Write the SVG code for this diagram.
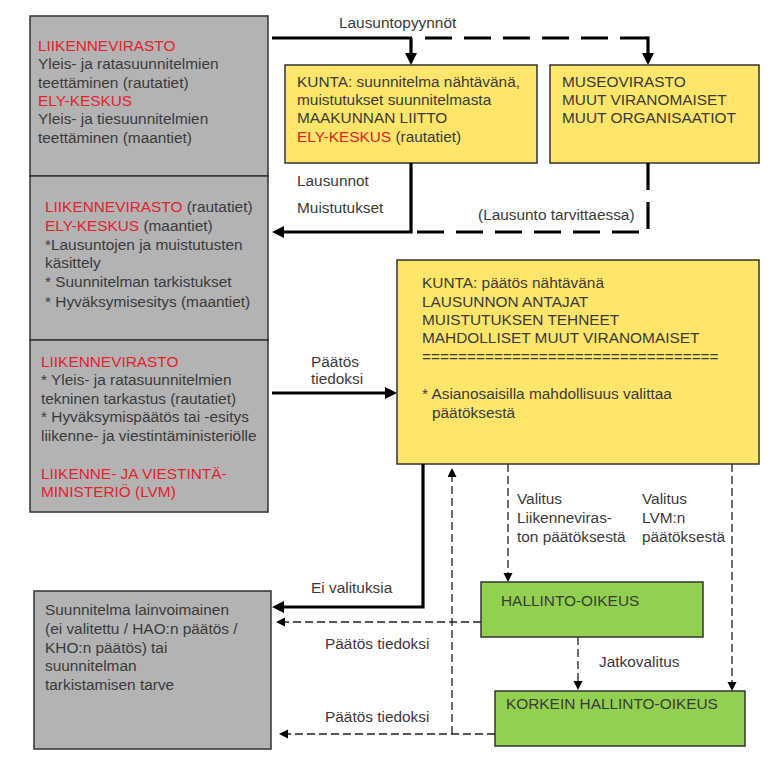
<svg xmlns="http://www.w3.org/2000/svg" width="780" height="770" viewBox="0 0 780 770">
<style>
text{font-family:"Liberation Sans",Arial,sans-serif;font-size:15.4px;fill:#3a3a3a}
.r{fill:#e3222b}
.gray{fill:#b3b3b3;stroke:#333;stroke-width:1.5}
.yel{fill:#ffe66b;stroke:#333;stroke-width:1.5}
.grn{fill:#92d050;stroke:#333;stroke-width:1.5}
.thick{fill:none;stroke:#000;stroke-width:3.2}
.tdash{fill:none;stroke:#000;stroke-width:3.2;stroke-dasharray:27 12}
.thin{fill:none;stroke:#222;stroke-width:1.3;stroke-dasharray:8 4}
</style>
<defs>
<marker id="ah" markerUnits="userSpaceOnUse" markerWidth="13" markerHeight="13" refX="6" refY="6" orient="auto"><path d="M0,0 L12,6 L0,12 z" fill="#000"/></marker>
<marker id="as" markerUnits="userSpaceOnUse" markerWidth="10" markerHeight="10" refX="5" refY="4.5" orient="auto"><path d="M0,0 L9,4.5 L0,9 z" fill="#000"/></marker>
</defs>
<rect width="780" height="770" fill="#fff"/>

<g id="n1">
<rect class="gray" x="30" y="16" width="238" height="160"/>
<text x="38" y="51" class="r">LIIKENNEVIRASTO</text>
<text x="38" y="69">Yleis- ja ratasuunnitelmien</text>
<text x="38" y="88">teettäminen (rautatiet)</text>
<text x="38" y="106" class="r">ELY-KESKUS</text>
<text x="38" y="124">Yleis- ja tiesuunnitelmien</text>
<text x="38" y="143">teettäminen (maantiet)</text>
</g>
<g id="n2">
<rect class="gray" x="30" y="176" width="238" height="164"/>
<text x="45" y="212"><tspan class="r">LIIKENNEVIRASTO</tspan> (rautatiet)</text>
<text x="45" y="231"><tspan class="r">ELY-KESKUS</tspan> (maantiet)</text>
<text x="45" y="250">*Lausuntojen ja muistutusten</text>
<text x="45" y="268">käsittely</text>
<text x="45" y="287">* Suunnitelman tarkistukset</text>
<text x="45" y="307">* Hyväksymisesitys (maantiet)</text>
</g>
<g id="n3">
<rect class="gray" x="30" y="340" width="238" height="172"/>
<text x="41" y="367" class="r">LIIKENNEVIRASTO</text>
<text x="41" y="385">* Yleis- ja ratasuunnitelmien</text>
<text x="41" y="404">tekninen tarkastus  (rautatiet)</text>
<text x="41" y="422">* Hyväksymispäätös tai -esitys</text>
<text x="41" y="441">liikenne- ja viestintäministeriölle</text>
<text x="41" y="479" class="r">LIIKENNE- JA VIESTINTÄ-</text>
<text x="41" y="497" class="r">MINISTERIÖ (LVM)</text>
</g>
<g id="n4">
<rect class="yel" x="285" y="65" width="252" height="98"/>
<text x="297" y="87">KUNTA: suunnitelma nähtävänä,</text>
<text x="297" y="105">muistutukset suunnitelmasta</text>
<text x="297" y="123">MAAKUNNAN LIITTO</text>
<text x="297" y="142"><tspan class="r">ELY-KESKUS</tspan> (rautatiet)</text>
</g>
<g id="n5">
<rect class="yel" x="550" y="65" width="209" height="98"/>
<text x="562" y="87">MUSEOVIRASTO</text>
<text x="562" y="105">MUUT VIRANOMAISET</text>
<text x="562" y="123">MUUT ORGANISAATIOT</text>
</g>
<g id="n6">
<rect class="yel" x="397" y="260" width="362" height="204"/>
<text x="422" y="288">KUNTA: päätös nähtävänä</text>
<text x="422" y="307">LAUSUNNON ANTAJAT</text>
<text x="422" y="325">MUISTUTUKSEN TEHNEET</text>
<text x="422" y="343">MAHDOLLISET MUUT VIRANOMAISET</text>
<text x="422" y="362">=================================</text>
<text x="422" y="399">* Asianosaisilla mahdollisuus valittaa</text>
<text x="432" y="418">päätöksestä</text>
</g>
<g id="n7">
<rect class="grn" x="481" y="582" width="222" height="55"/>
<text x="501" y="606">HALLINTO-OIKEUS</text>
</g>
<g id="n8">
<rect class="grn" x="495" y="691" width="250" height="55"/>
<text x="506" y="709">KORKEIN HALLINTO-OIKEUS</text>
</g>
<g id="n9">
<rect class="gray" x="34" y="591" width="237" height="158"/>
<text x="45" y="615">Suunnitelma lainvoimainen</text>
<text x="45" y="634">(ei valitettu / HAO:n päätös /</text>
<text x="45" y="653">KHO:n päätös) tai</text>
<text x="45" y="671">suunnitelman</text>
<text x="45" y="690">tarkistamisen tarve</text>
</g>

<g id="connectors">
<path class="thick" d="M272,38 H412"/>
<path class="thick" d="M411,38 V59" marker-end="url(#ah)"/>
<path class="tdash" d="M425,38 H648"/>
<path class="thick" d="M648,36.4 V59" marker-end="url(#ah)"/>
<path class="tdash" d="M648,163 V232 H411"/>
<path class="thick" d="M411,163 V232 H278" marker-end="url(#ah)"/>
<path class="thick" d="M272,393 H391" marker-end="url(#ah)"/>
<path class="thick" d="M423,464 V607 H278" marker-end="url(#ah)"/>
<path class="thin" d="M508,464 V578" marker-end="url(#as)"/>
<path class="thin" d="M732,464 V687" marker-end="url(#as)"/>
<path class="thin" d="M578,637 V686" marker-end="url(#as)"/>
<path class="thin" d="M481,622 H280" marker-end="url(#as)"/>
<path class="thin" d="M495,734 H283" marker-end="url(#as)"/>
<path class="thin" d="M452,734 V472" marker-end="url(#as)"/>
</g>

<g id="labels">
<text x="339" y="28">Lausuntopyynnöt</text>
<text x="297" y="186">Lausunnot</text>
<text x="297" y="213">Muistutukset</text>
<text x="478" y="220">(Lausunto tarvittaessa)</text>
<text x="311" y="367">Päätös</text>
<text x="311" y="384">tiedoksi</text>
<text x="517" y="504">Valitus</text>
<text x="517" y="523">Liikenneviras-</text>
<text x="517" y="542">ton päätöksestä</text>
<text x="642" y="504">Valitus</text>
<text x="642" y="523">LVM:n</text>
<text x="642" y="542">päätöksestä</text>
<text x="311" y="593">Ei valituksia</text>
<text x="325" y="649">Päätös tiedoksi</text>
<text x="599" y="667">Jatkovalitus</text>
<text x="325" y="722">Päätös tiedoksi</text>
</g>
</svg>
